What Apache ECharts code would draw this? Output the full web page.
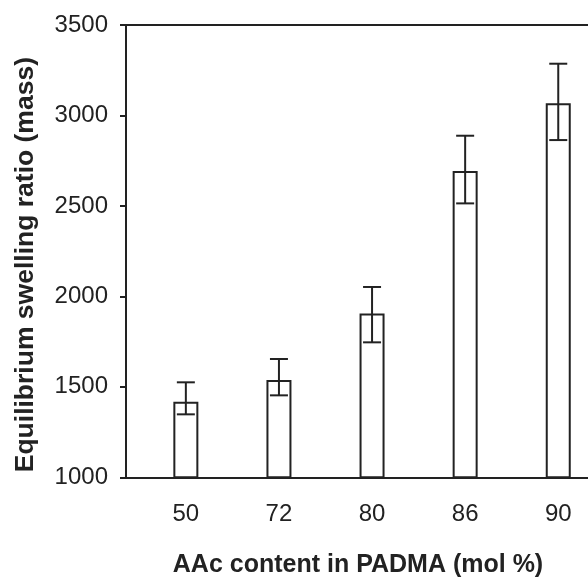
<!DOCTYPE html>
<html>
<head>
<meta charset="utf-8">
<script src="https://cdn.jsdelivr.net/npm/echarts@6/dist/echarts.min.js"></script>
<style>html,body{margin:0;padding:0;background:#fff;}#chart{width:588px;height:577px;}</style>
</head>
<body>
<div id="chart"></div>
<script>
const categories = ['50', '72', '80', '86', '90'];
const swellingRatio = [1418, 1538, 1906, 2693, 3067];
const errorHigh = [1525, 1654, 2052, 2888, 3286];
const errorLow = [1348, 1453, 1746, 2514, 2864];
const yMin = 1000, yMax = 3500, yStep = 500;
const xTitle = 'AAc content in PADMA (mol %)';
const yTitle = 'Equilibrium swelling ratio (mass)';

const FONT = "'Liberation Sans', Arial, sans-serif";
const INK = '#222';

const chart = echarts.init(document.getElementById('chart'), null, {renderer: 'canvas'});
const option = {
  backgroundColor: '#fff',
  animation: false,
  grid: [
    {left: 126, top: 25, width: 464, height: 452.3, outerBoundsMode: 'none', containLabel: false},
    {left: 139.3, top: 25, width: 465.5, height: 452.3, outerBoundsMode: 'none', containLabel: false}
  ],
  xAxis: [
    {
      gridIndex: 0, type: 'value', min: 0, max: 1, position: 'bottom',
      axisLine: {show: true, lineStyle: {color: INK, width: 2}},
      axisTick: {show: false}, axisLabel: {show: false}, splitLine: {show: false},
      name: xTitle, nameLocation: 'middle', nameGap: 75,
      nameTextStyle: {fontFamily: FONT, fontSize: 25, fontWeight: 'bold', color: INK}
    },
    {
      gridIndex: 0, type: 'value', min: 0, max: 1, position: 'top',
      axisLine: {show: true, lineStyle: {color: INK, width: 2}},
      axisTick: {show: false}, axisLabel: {show: false}, splitLine: {show: false}
    },
    {
      gridIndex: 1, type: 'category', data: categories, boundaryGap: true,
      axisLine: {show: false}, axisTick: {show: false}, splitLine: {show: false},
      axisLabel: {fontFamily: FONT, fontSize: 24, color: INK, margin: 25}
    }
  ],
  yAxis: [
    {
      gridIndex: 0, type: 'value', min: yMin, max: yMax, interval: yStep,
      axisLine: {show: true, lineStyle: {color: INK, width: 2}},
      axisTick: {show: true, inside: false, length: 6, lineStyle: {color: INK, width: 2}},
      axisLabel: {fontFamily: FONT, fontSize: 24, color: INK, margin: 18,
        formatter: function (v) { return String(v); }},
      splitLine: {show: false},
      name: yTitle, nameLocation: 'middle', nameGap: 87, nameRotate: 90,
      nameTextStyle: {fontFamily: FONT, fontSize: 26.5, fontWeight: 'bold', color: INK, padding: [0, 27, 0, 0]}
    },
    {
      gridIndex: 1, type: 'value', min: yMin, max: yMax, interval: yStep, show: false
    }
  ],
  series: [
    {
      type: 'bar', xAxisIndex: 2, yAxisIndex: 1,
      data: swellingRatio, barWidth: 25,
      itemStyle: {color: '#fff', borderColor: INK, borderWidth: 2},
      z: 2
    },
    {
      type: 'custom', xAxisIndex: 2, yAxisIndex: 1, z: 3,
      data: categories.map((c, i) => [i, errorLow[i], errorHigh[i]]),
      encode: {x: 0, y: [1, 2]},
      renderItem: function (params, api) {
        const x = api.value(0);
        const lo = api.coord([x, api.value(1)]);
        const hi = api.coord([x, api.value(2)]);
        const hw = 9;
        const st = {stroke: INK, lineWidth: 2};
        return {
          type: 'group',
          children: [
            {type: 'line', shape: {x1: lo[0], y1: lo[1], x2: hi[0], y2: hi[1]}, style: st},
            {type: 'line', shape: {x1: lo[0] - hw, y1: lo[1], x2: lo[0] + hw, y2: lo[1]}, style: st},
            {type: 'line', shape: {x1: hi[0] - hw, y1: hi[1], x2: hi[0] + hw, y2: hi[1]}, style: st}
          ]
        };
      }
    }
  ]
};
chart.setOption(option);
</script>
</body>
</html>
